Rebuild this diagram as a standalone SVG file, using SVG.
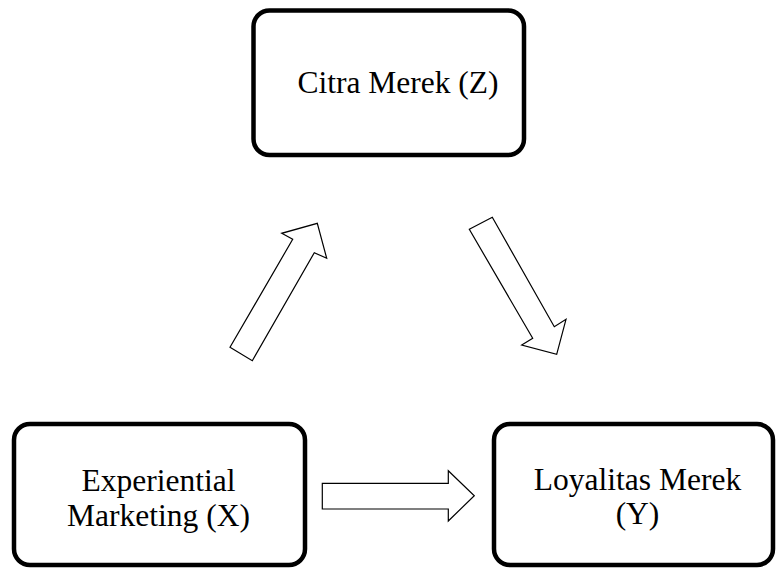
<svg xmlns="http://www.w3.org/2000/svg" width="777" height="570" viewBox="0 0 777 570">
<style>
.box{fill:#fff;stroke:#000;stroke-width:4.5}
.lbl{font-size:31.5px;fill:#000;text-anchor:middle}
.arr{fill:#fff;stroke:#000;stroke-width:1.2;stroke-linejoin:miter}
</style>
<rect width="777" height="570" fill="#fff"/>
<g id="connectors">
<polygon class="arr" points="230,347.3 252.3,360.7 314.3,252.7 326.7,258.3 317.3,223.3 281.7,233.3 292.7,239.3"/>
<polygon class="arr" points="469.3,229.3 492.3,217.3 554.3,326.7 566,319.3 556.7,354.3 521.7,345 532.7,338.3"/>
<polygon class="arr" points="322.3,483.3 448.3,483.3 448.3,470.7 474.3,495.7 448.3,521 448.3,509 322.3,509"/>
</g>
<g font-family="Liberation Serif, Times New Roman, serif">
<g id="node-z">
<rect class="box" x="253.5" y="10.5" width="270.5" height="144.5" rx="16"/>
<text class="lbl" x="398" y="92.5">Citra Merek (Z)</text>
</g>
<g id="node-x">
<rect class="box" x="14" y="424" width="291" height="141" rx="16"/>
<text class="lbl" x="158.5" y="491">Experiential</text>
<text class="lbl" x="158.5" y="525.5">Marketing (X)</text>
</g>
<g id="node-y">
<rect class="box" x="494" y="424" width="279" height="141" rx="16"/>
<text class="lbl" x="637.5" y="490">Loyalitas Merek</text>
<text class="lbl" x="637.5" y="523.5">(Y)</text>
</g>
</g>
</svg>
